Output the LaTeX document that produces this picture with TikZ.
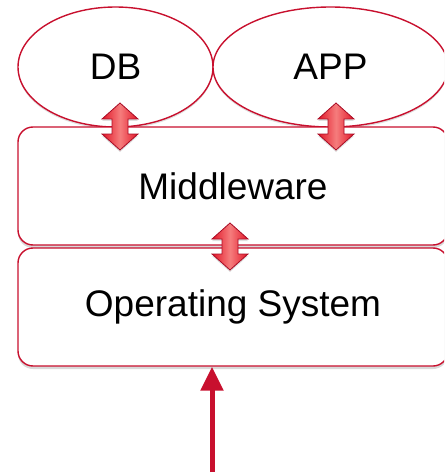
\documentclass[tikz,border=0pt]{standalone}
\usepackage{fontspec}
\setmainfont{Liberation Sans}
\usetikzlibrary{shapes.geometric,shadows,arrows.meta}
\definecolor{cred}{RGB}{200,16,46}
\definecolor{lred}{RGB}{245,125,125}
\definecolor{mred}{RGB}{226,22,40}
\tikzset{
  lbl/.style={font=\fontsize{37}{40}\selectfont},
  oval/.style={ellipse,draw=cred,line width=1.4pt,fill=white,inner sep=0pt,
    drop shadow={shadow xshift=0pt,shadow yshift=-2pt,opacity=0.25}},
  layer/.style={rectangle,rounded corners=15pt,draw=cred,line width=1.4pt,fill=white,inner sep=0pt,
    drop shadow={shadow xshift=0pt,shadow yshift=-3pt,opacity=0.3}},
  dbl/.style={draw=cred!85!black,line width=0.8pt,
    left color=mred,right color=mred,middle color=lred,
    drop shadow={shadow xshift=0pt,shadow yshift=-2pt,opacity=0.25}},
  feed/.style={draw=cred,line width=5pt,-{Triangle[width=22pt,length=24pt]}}
}
\newcommand\dblarr[1]{%
  \path[dbl,shift={(#1)}] (0,-23.5) -- (18,-7.5) -- (8,-7.5) -- (8,7.5) -- (18,7.5)
    -- (0,23.5) -- (-18,7.5) -- (-8,7.5) -- (-8,-7.5) -- (-18,-7.5) -- cycle;}
\begin{document}
\begin{tikzpicture}[x=1pt,y=-1pt]
\useasboundingbox (0,0) rectangle (444,476);
\clip (0,0) rectangle (444,476);
\node[oval,minimum width=195pt,minimum height=120pt] (db) at (115.5,67) {};
\node[oval,minimum width=235pt,minimum height=120pt] (app) at (330.5,67) {};
\node[lbl] (dbt) at (db.center) {DB};
\node[lbl] (appt) at (app.center) {APP};
\node[layer,minimum width=430pt,minimum height=118pt] (mw) at (233,186) {};
\node[lbl] (mwt) at (mw.center) {Middleware};
\node[layer,minimum width=430pt,minimum height=118pt] (os) at (233,307) {};
\node[lbl] (ost) at (os.center) {Operating System};
\coordinate (a1) at (120,126.5);
\coordinate (a2) at (336,126.5);
\coordinate (a3) at (230,246.5);
\dblarr{a1}
\dblarr{a2}
\dblarr{a3}
\coordinate (in) at (212,472);
\draw[feed] (in) -- (in |- os.south);
\end{tikzpicture}
\end{document}
